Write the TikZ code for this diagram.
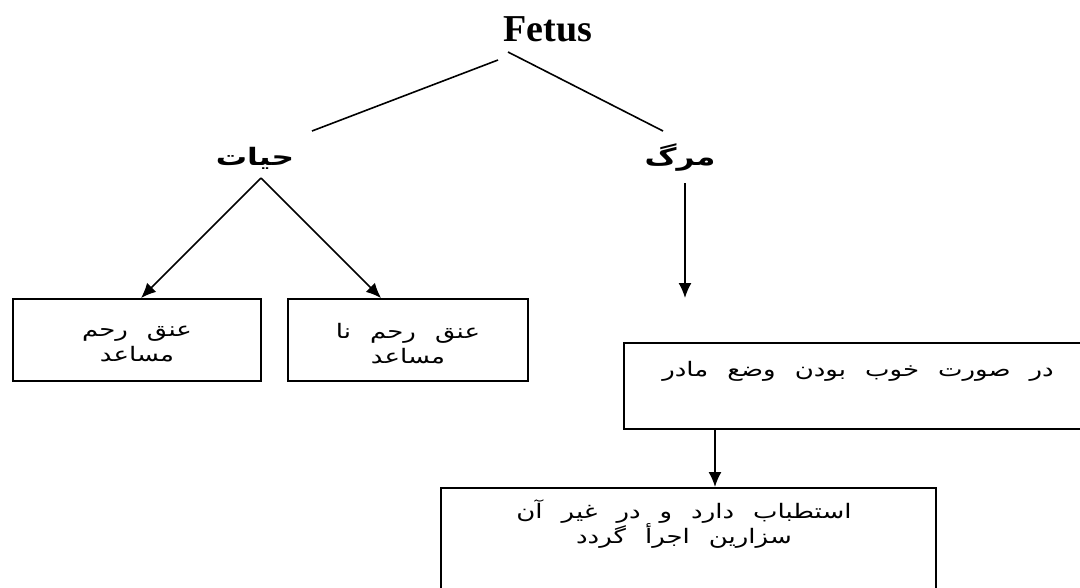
\documentclass[tikz,border=0pt]{standalone}
\usepackage{fontspec}
\setmainfont{Liberation Serif}
\newfontfamily\arabicfont[Script=Arabic,WordSpace=2.3,FakeStretch=1.3]{DejaVu Sans}
\TeXXeTstate=1
\usetikzlibrary{arrows.meta}
\begin{document}
\begin{tikzpicture}[x=1pt,y=-1pt,
  lbl/.style={inner sep=0pt, font=\arabicfont\fontsize{24}{26}\selectfont\bfseries},
  boxnode/.style={draw, line width=2pt, inner sep=0pt},
  link/.style={line width=1.6pt},
  arr/.style={line width=1.6pt, -{Latex[length=15pt,width=13pt]}},
  btext/.style={font=\arabicfont\fontsize{20}{25}\selectfont, align=center, inner sep=0pt}]
\useasboundingbox (0,0) rectangle (1080,587);
\clip (0,0) rectangle (1080,587);

% title and labels
\node[inner sep=0pt, font=\fontsize{38}{42}\selectfont\bfseries] (fetus) at (548,29) {Fetus};
\node[lbl] (hayat) at (255,158) {\beginR حیات\endR};
\node[lbl] (marg) at (680,158) {\beginR مرگ\endR};

% boxes
\node[boxnode, anchor=north west, minimum width=248pt, minimum height=82pt] (b1) at (12,298) {};
\node[boxnode, anchor=north west, minimum width=240pt, minimum height=82pt] (b2) at (287,298) {};
\node[boxnode, anchor=north west, minimum width=470pt, minimum height=86pt] (b3) at (623,342) {};
\node[boxnode, anchor=north west, minimum width=495pt, minimum height=110pt] (b4) at (440,487) {};

% box texts
\node[btext] (t1) at ([yshift=-4pt]b1.center) {\beginR عنق رحم\endR\\ \beginR مساعد\endR};
\node[btext] (t2) at ([yshift=-4pt]b2.center) {\beginR عنق رحم نا\endR\\ \beginR مساعد\endR};
\node[btext, anchor=east] (t3) at (1054,371) {\beginR در صورت خوب بودن وضع مادر\endR};
\node[btext, anchor=north] (t4) at (684,500) {\beginR استطباب دارد و در غیر آن\endR\\ \beginR سزارین اجرأ گردد\endR};

% coordinates for free ends
\coordinate (fl) at (498,60);
\coordinate (fr) at (508,52);
\coordinate (hl) at (312,131);
\coordinate (mr) at (663,131);
\coordinate (hs) at (261,178);
\coordinate (ms) at (685,183);
\coordinate (me) at (685,298);
\coordinate (c34) at (715,0);

% connectors
\draw[link] (fl) -- (hl);
\draw[link] (fr) -- (mr);
\draw[arr] (hs) -- ([xshift=4pt]b1.north);
\draw[arr] (hs) -- ([xshift=-27pt]b2.north);
\draw[arr] (ms) -- (me);
\draw[arr] (b3.south -| c34) -- (b4.north -| c34);
\end{tikzpicture}
\end{document}
